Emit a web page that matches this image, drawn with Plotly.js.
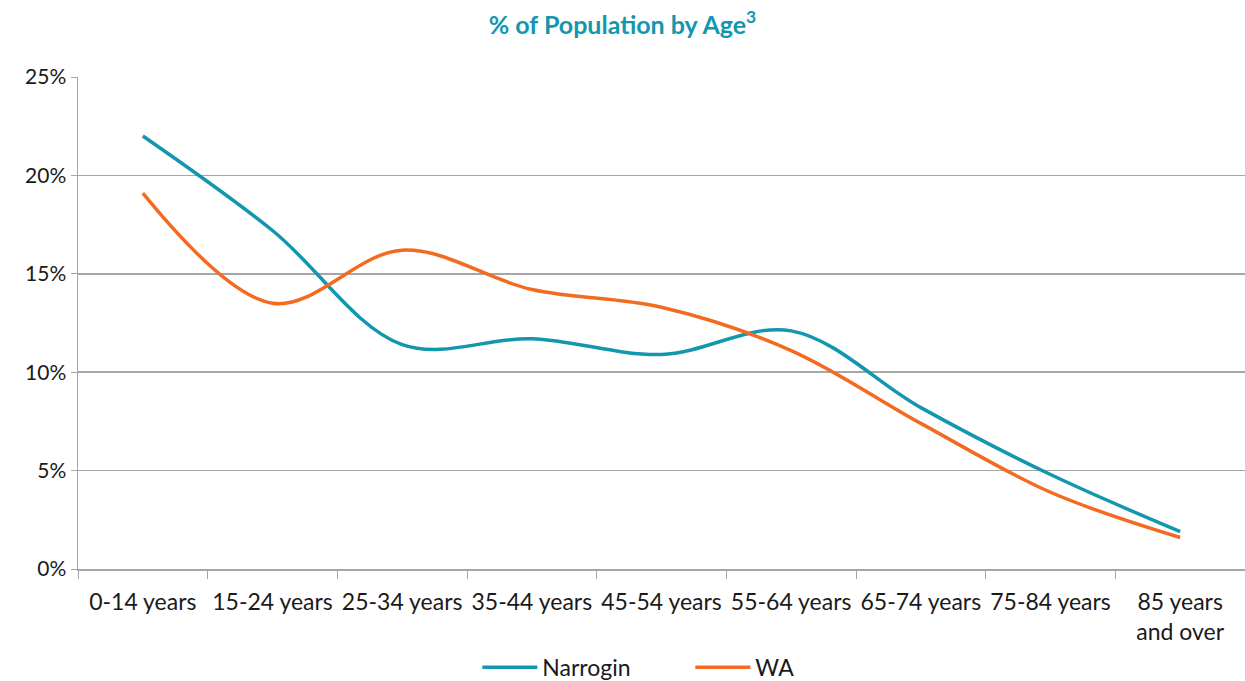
<!DOCTYPE html>
<html>
<head>
<meta charset="utf-8">
<script src="https://cdn.plot.ly/plotly-3.0.1.min.js"></script>
<style>html,body{margin:0;padding:0;background:#fff;}#chart{width:1245px;height:681px;}</style>
</head>
<body>
<div id="chart"></div>
<script>
var categories = ["0-14 years","15-24 years","25-34 years","35-44 years","45-54 years","55-64 years","65-74 years","75-84 years","85 years<br>and over"];
var narrogin = [22.0, 17.2, 11.4, 11.7, 10.9, 12.1, 8.2, 4.8, 1.9];
var wa = [19.1, 13.5, 16.2, 14.2, 13.3, 11.1, 7.4, 3.9, 1.6];
var yTicks = [0, 5, 10, 15, 20, 25];
var yTickLabels = ["0%", "5%", "10%", "15%", "20%", "25%"];

var FONT = "Lato, 'Open Sans', sans-serif";
var traces = [
  {x: categories, y: narrogin, name: "Narrogin", type: "scatter", mode: "lines",
   line: {color: "#1297AE", width: 3.5, shape: "spline", smoothing: 1}},
  {x: categories, y: wa, name: "WA", type: "scatter", mode: "lines",
   line: {color: "#F26B21", width: 3.5, shape: "spline", smoothing: 1}}
];
var layout = {
  width: 1245, height: 681,
  margin: {l: 78, r: 0, t: 77, b: 112},
  paper_bgcolor: "#fff", plot_bgcolor: "#fff",
  font: {family: FONT, size: 20, color: "#1a1a1a"},
  title: {text: "% of Population by Age<sup>3</sup>", x: 0.5, xanchor: "center",
          y: 0.963, yanchor: "middle", yref: "container",
          font: {family: FONT, size: 25, color: "#1297AE", weight: "bold"}},
  xaxis: {type: "category", range: [-0.5, 8.5], showgrid: false, showline: true, linecolor: "#A6A6A6", linewidth: 1.5,
          ticks: "outside", tickson: "boundaries", ticklen: 8, tickcolor: "#A6A6A6", ticklabelstandoff: 12,
          tickfont: {family: FONT, size: 23, color: "#1a1a1a"}, fixedrange: true, zeroline: false},
  yaxis: {range: [0, 25], tickvals: yTicks, ticktext: yTickLabels, showgrid: true, gridcolor: "#A6A6A6",
          gridwidth: 1.5, showline: true, linecolor: "#A6A6A6", linewidth: 1.5, ticks: "outside",
          ticklen: 6, tickcolor: "#A6A6A6", zeroline: false,
          tickfont: {family: FONT, size: 21, color: "#1a1a1a"}},
  showlegend: true,
  legend: {orientation: "h", x: 0.5247, xanchor: "center", xref: "paper", y: 0.02, yref: "container", yanchor: "middle",
           font: {family: FONT, size: 23, color: "#1a1a1a"}, entrywidth: 143, itemwidth: 55}
};
Plotly.newPlot("chart", traces, layout, {displayModeBar: false, staticPlot: true});
</script>
</body>
</html>
